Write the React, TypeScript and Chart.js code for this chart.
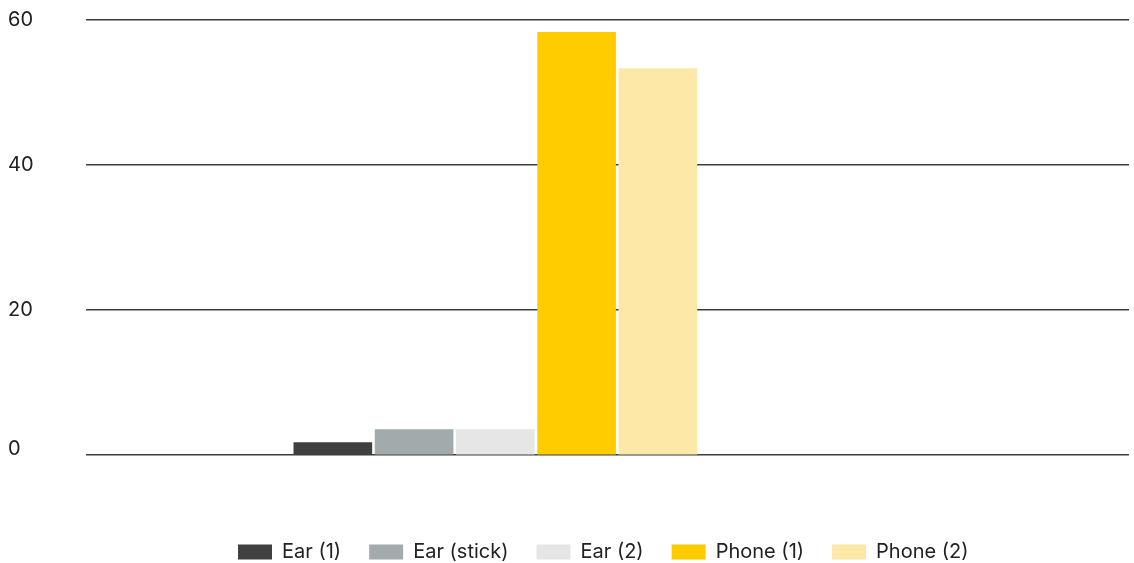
import React, { useEffect, useRef } from 'react';
import { Chart, registerables } from 'chart.js';

Chart.register(...registerables);

const seriesNames = ['Ear (1)', 'Ear (stick)', 'Ear (2)', 'Phone (1)', 'Phone (2)'];
const seriesValues = [1.7, 3.5, 3.5, 58.3, 53.3];
const seriesColors = ['#404040', '#a3aaab', '#e6e6e6', '#ffcc00', '#fde8a8'];
const yTicks = [0, 20, 40, 60];
const categoryIndex = 0;

const FONT = 'Inter';

export default function App() {
  const ref = useRef<HTMLCanvasElement>(null);

  useEffect(() => {
    const placeLegend = {
      id: 'placeLegend',
      afterLayout(chart: any) {
        const l = chart.legend;
        if (!l) return;
        const w = l.right - l.left;
        const h = l.bottom - l.top;
        l.left = 210;
        l.right = l.left + w;
        l.top = 514;
        l.bottom = l.top + h;
      },
    };

    const chart = new Chart(ref.current as HTMLCanvasElement, {
      type: 'bar',
      data: {
        datasets: seriesNames.map((name, i) => ({
          label: name,
          data: [{ x: categoryIndex, y: seriesValues[i] }],
          backgroundColor: seriesColors[i],
          borderWidth: 0,
        })),
      },
      options: {
        animation: false,
        responsive: true,
        maintainAspectRatio: false,
        layout: { padding: { left: 8, right: 5, top: 20, bottom: 0 } },
        datasets: { bar: { barThickness: 81.25, maxBarThickness: 78 } as any },
        scales: {
          x: {
            type: 'linear',
            offset: false,
            min: -0.5,
            max: 0.774,
            grid: { display: false, offset: false },
            border: { display: false },
            ticks: { display: false },
            afterFit: (s: any) => {
              s.height = 50;
            },
          },
          y: {
            min: 0,
            max: 60,
            afterBuildTicks: (s: any) => {
              s.ticks = yTicks.map((v) => ({ value: v }));
            },
            ticks: {
              crossAlign: 'far',
              color: '#222222',
              font: { family: FONT, size: 20, lineHeight: '12px' } as any,
              callback: (v: any) => (Number(v) === 0 ? ['0', ''] : String(v)),
            },
            grid: { color: '#3d3d3d', lineWidth: 1.5, drawTicks: false },
            border: { display: false },
            afterFit: (s: any) => {
              s.width = 78;
            },
          },
        },
        plugins: {
          legend: {
            position: 'bottom',
            align: 'start',
            labels: {
              boxWidth: 34,
              boxHeight: 15,
              padding: 28,
              color: '#222222',
              font: { family: FONT, size: 20 },
            },
          },
          tooltip: { enabled: false },
        },
      } as any,
      plugins: [placeLegend],
    });
    return () => chart.destroy();
  }, []);

  return (
    <div style={{ position: 'absolute', left: 0, top: 0, width: 1134, height: 563, background: '#ffffff' }}>
      <canvas ref={ref} />
    </div>
  );
}
